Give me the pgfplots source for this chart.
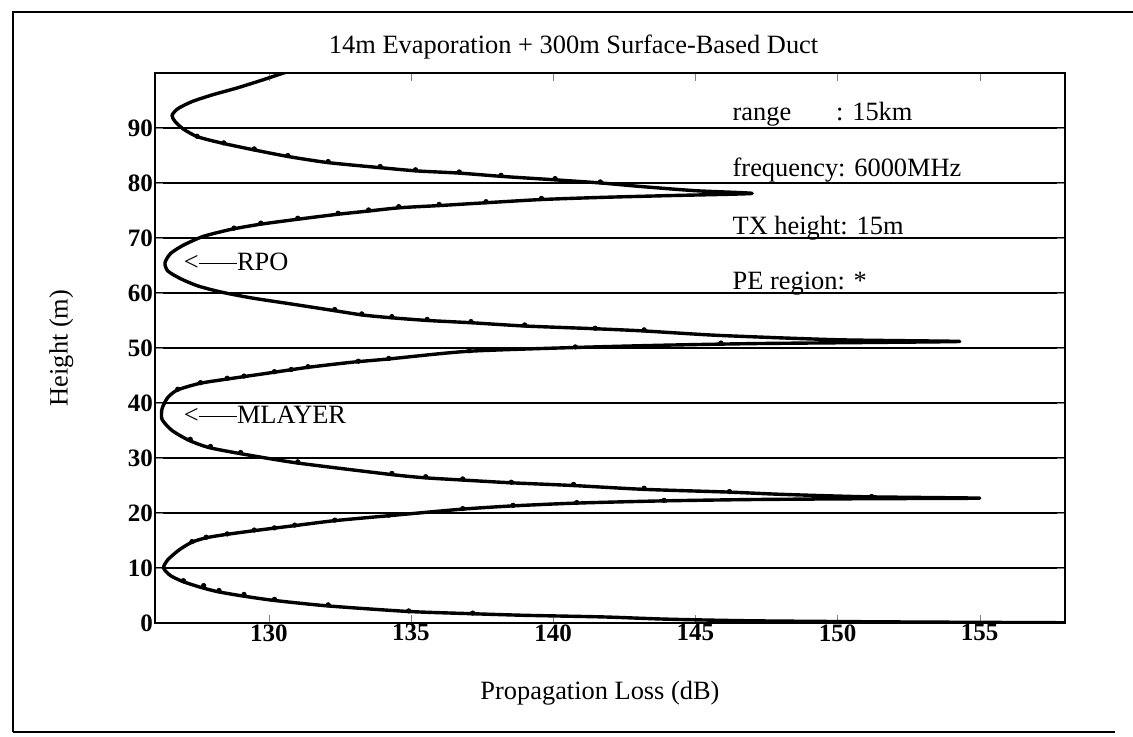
\documentclass[border=0pt]{standalone}
\usepackage{pgfplots}
\pgfplotsset{compat=1.18}
\usepackage{fontspec}
\setmainfont{Liberation Serif}

\newcommand{\arr}{<\rule[0.24em]{1.45em}{0.07em}}

\begin{document}
\begin{tikzpicture}
\useasboundingbox (-77.5pt,-56.5pt) rectangle (489pt,311.5pt);
% outer frame of the scanned figure
\draw[line width=1.3pt] (-71pt,-54.5pt) -- (-71pt,305.5pt) -- (489pt,305.5pt);
\draw[line width=1.3pt] (-71pt,-54.5pt) -- (480pt,-54.5pt);

\begin{axis}[
	scale only axis,
	width=455pt, height=275pt,
	xmin=126, xmax=158,
	ymin=0, ymax=100,
	xtick={130,135,140,145,150,155},
	ytick={0,10,20,30,40,50,60,70,80,90},
	tick align=inside,
	major tick length=4pt,
	axis line style={line width=1.1pt},
	ymajorgrids=true,
	grid style={black, line width=0.7pt},
	font=\fontsize{13.2}{15}\selectfont,
	ticklabel style={font=\fontsize{12.5}{14}\selectfont\bfseries},
	/pgf/number format/assume math mode=true,
	xticklabel style={inner sep=0.5pt},
	yticklabel style={inner sep=0.8pt},
	title={14m Evaporation + 300m Surface-Based Duct},
	title style={at={(axis description cs:0.46,1)}, anchor=base, yshift=4pt},
	xlabel={Propagation Loss (dB)},
	xlabel style={at={(axis description cs:0.489,-0.127)}, anchor=center},
	ylabel={Height (m)},
	ylabel style={at={(axis description cs:-0.103,0.5)}, anchor=center},
	clip=true,
]

% propagation loss curve
\addplot[black, line width=1.7pt, line join=round, smooth, tension=0.4] coordinates {
	(158,0.05) (152,0.2) (147,0.4) (144,0.7) (141.8,1.1) (139,1.4)
	(137.1,1.7) (134.9,2.1) (132.1,3.1) (130.2,4.1) (129.1,4.9) (128.2,5.7)
	(127.6,6.5) (127.0,7.5) (126.55,8.6) (126.3,10) (126.45,11.5) (126.85,13.3)
	(127.3,14.7) (127.8,15.5) (128.5,16.1) (129.5,16.8) (130.9,17.7) (132.3,18.6)
	(134.2,19.5) (136.8,20.7) (138.6,21.3) (140.8,21.8) (143.8,22.2) (147,22.45)
	(151,22.6) (155,22.7)
	(151,22.95) (148,23.4) (146.2,23.8) (143.2,24.3) (140.7,25.0) (138.5,25.5)
	(136.8,26.0) (135.5,26.4) (134.3,27.0) (131.0,29.1) (129.0,30.8) (127.9,31.9)
	(127.2,33.2) (126.6,35) (126.25,37) (126.25,39) (126.45,41) (126.8,42.4)
	(127.6,43.6) (128.6,44.4) (130.2,45.6) (131.4,46.5) (132.9,47.4) (134.2,48.0)
	(137.0,49.4) (140.8,50.1) (143.8,50.5) (147,50.8) (151,51.0) (154.3,51.2)
	(150,51.5) (145.8,52.3) (143.2,53.1) (141.5,53.5) (139.0,54.0) (137.1,54.6)
	(135.6,55.0) (134.3,55.5) (133.3,56.0) (132.3,56.8) (130.8,58) (129.4,59.1)
	(128.3,60.2) (127.5,61.3) (126.9,62.6) (126.45,64) (126.35,65.5) (126.55,67.2)
	(127.0,68.7) (127.7,70.3) (128.7,71.6) (129.7,72.5) (131.0,73.4) (132.4,74.3)
	(133.5,74.9) (134.6,75.5) (136.0,75.9) (137.6,76.4) (139.6,77.0) (141.8,77.4)
	(144,77.7) (147,78.1)
	(145,78.6) (143,79.4) (141.7,80.0) (140,80.6) (138.2,81.2) (136.7,81.8)
	(135.2,82.2) (133.9,82.8) (132.1,83.7) (130.7,84.8) (129.5,86.0) (128.4,87.2)
	(127.5,88.4) (127.0,89.8) (126.7,91.2) (126.6,92.3) (126.8,93.5) (127.3,94.8)
	(128.0,96.0) (128.9,97.3) (129.7,98.6) (130.4,99.8) (130.8,100.5)
};

% PE region points
\addplot[only marks, mark=*, mark size=1.1pt, black] coordinates {
	(127.0,7.7) (127.71,6.8) (128.25,5.9) (129.13,5.2) (130.2,4.3) (132.09,3.3)
	(134.92,2.2) (137.17,1.8)
	(127.3,14.8) (127.8,15.6) (128.54,16.2) (129.49,16.9) (130.2,17.3) (130.91,17.8)
	(132.32,18.7) (134.22,19.6) (136.82,20.8) (138.59,21.4) (140.83,21.9) (143.9,22.3)
	(127.24,33.4) (127.95,32.1) (129.01,31.0) (131.02,29.3) (134.33,27.2) (135.52,26.6)
	(136.82,26.2) (138.53,25.6) (140.72,25.2) (143.2,24.5) (146.2,23.9) (151.2,23.0)
	(126.8,42.5) (127.6,43.7) (128.54,44.5) (129.13,44.9) (130.2,45.7) (130.79,46.1)
	(131.38,46.6) (133.15,47.6) (134.22,48.1) (137.05,49.5) (140.78,50.2) (145.9,50.9)
	(132.32,57.0) (133.27,56.2) (134.33,55.7) (135.57,55.2) (137.11,54.8) (139.0,54.2)
	(141.48,53.6) (143.2,53.3)
	(128.78,71.8) (129.72,72.7) (131.02,73.6) (132.44,74.5) (133.51,75.1) (134.57,75.7)
	(135.99,76.1) (137.64,76.6) (139.59,77.2)
	(127.48,88.5) (128.42,87.3) (129.49,86.2) (130.67,85.0) (132.09,83.9) (133.92,83.0)
	(135.16,82.4) (136.7,82.0) (138.17,81.4) (140.07,80.8) (141.66,80.2)
};

\node[anchor=west, inner sep=0pt] at (axis cs:127.0,65.6) {\arr RPO};
\node[anchor=west, inner sep=0pt] at (axis cs:127.0,37.8) {\arr MLAYER};

\node[anchor=base west, inner sep=0pt] at (axis cs:146.3,91.3) {range\hspace{1.7em}: 15km};
\node[anchor=base west, inner sep=0pt] at (axis cs:146.3,81.2) {frequency: 6000MHz};
\node[anchor=base west, inner sep=0pt] at (axis cs:146.3,70.6) {TX height: 15m};
\node[anchor=base west, inner sep=0pt] at (axis cs:146.3,60.6) {PE region: *};
\end{axis}
\end{tikzpicture}
\end{document}
